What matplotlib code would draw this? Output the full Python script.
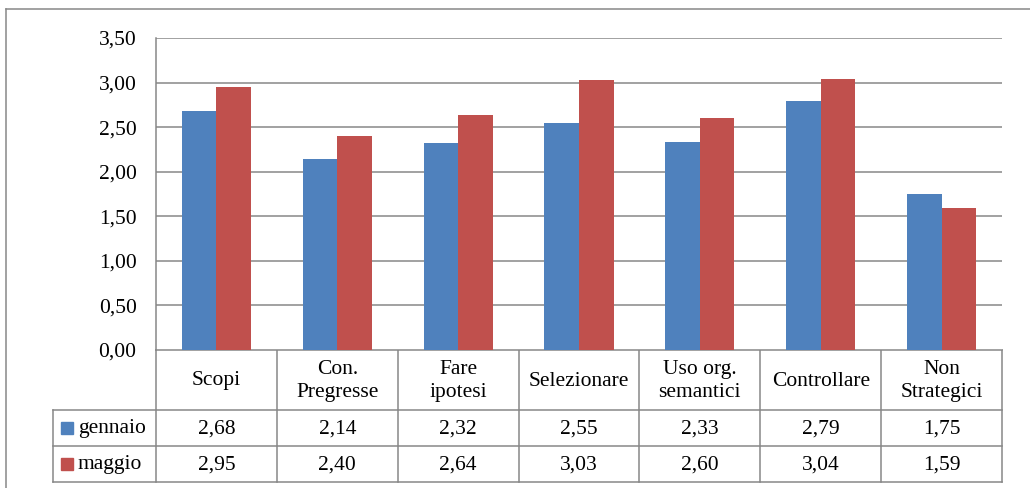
import numpy as np
import matplotlib.pyplot as plt
from matplotlib.ticker import FuncFormatter

categories = ["Scopi", "Con.\nPregresse", "Fare\nipotesi", "Selezionare",
              "Uso org.\nsemantici", "Controllare", "Non\nStrategici"]
series_names = ["gennaio", "maggio"]
gennaio = [2.68, 2.14, 2.32, 2.55, 2.33, 2.79, 1.75]
maggio = [2.95, 2.40, 2.64, 3.03, 2.60, 3.04, 1.59]
y_ticks = [0.0, 0.5, 1.0, 1.5, 2.0, 2.5, 3.0, 3.5]

BLUE = "#4F81BD"
RED = "#C0504D"
GRID = "#878787"
FS = 15.5

W, H = 1030, 488
plt.rcParams["font.family"] = ["Liberation Serif", "DejaVu Serif"]
plt.rcParams["font.size"] = FS

def comma(v):
    return f"{v:.2f}".replace(".", ",")

fig = plt.figure(figsize=(W / 100, H / 100), dpi=100)

# plot area, in pixels
left, right, top, bottom = 156, 1002, 38, 350
ax = fig.add_axes([left / W, 1 - bottom / H, (right - left) / W, (bottom - top) / H])

n = len(categories)
x = np.arange(n)
bw = 0.286
ax.bar(x - bw / 2, gennaio, bw, color=BLUE, zorder=3)
ax.bar(x + bw / 2, maggio, bw, color=RED, zorder=3)

ax.set_xlim(-0.5, n - 0.5)
ax.set_ylim(0, 3.5)
ax.set_yticks(y_ticks)
ax.yaxis.set_major_formatter(FuncFormatter(lambda v, p: comma(v)))
ax.tick_params(axis="y", length=0, pad=14, labelsize=FS)
ax.set_xticks([])
ax.grid(axis="y", color=GRID, linewidth=1.1, zorder=0)
for s in ["top", "right", "bottom"]:
    ax.spines[s].set_visible(False)
ax.spines["left"].set_color(GRID)
ax.spines["left"].set_linewidth(1.1)

# overlay for the data table and the outer frame, in pixel units
ov = fig.add_axes([0, 0, 1, 1], zorder=-1)
ov.set_xlim(0, W)
ov.set_ylim(H, 0)
ov.axis("off")
ov.patch.set_alpha(0)

lw = 1.1
# outer frame (left and top)
ov.plot([6, 6], [9, H], color=GRID, lw=lw)
ov.plot([6, W], [9, 9], color=GRID, lw=lw)

col_w = (right - left) / n
row_head, row1, row2, row_end = bottom, 410, 446, 482
key_left = 53

ov.plot([left, right], [row_head, row_head], color=GRID, lw=lw)
for y in (row1, row2, row_end):
    ov.plot([key_left, right], [y, y], color=GRID, lw=lw)
for i in range(n + 1):
    cx = left + i * col_w
    ov.plot([cx, cx], [row_head, row_end], color=GRID, lw=lw)
ov.plot([key_left, key_left], [row1, row_end], color=GRID, lw=lw)

for i, cat in enumerate(categories):
    cx = left + (i + 0.5) * col_w
    ov.text(cx, (row_head + row1) / 2 + 1, cat, ha="center", va="center",
            fontsize=FS, linespacing=1.35)
    ov.text(cx, (row1 + row2) / 2 + 1, comma(gennaio[i]), ha="center", va="center", fontsize=FS)
    ov.text(cx, (row2 + row_end) / 2 + 1, comma(maggio[i]), ha="center", va="center", fontsize=FS)

for name, color, (ya, yb) in zip(series_names, [BLUE, RED], [(row1, row2), (row2, row_end)]):
    yc = (ya + yb) / 2
    ov.add_patch(plt.Rectangle((61, yc - 6), 12, 12, color=color))
    ov.text(78, yc + 1, name, ha="left", va="center", fontsize=FS)

fig.savefig("out.png", dpi=100)
